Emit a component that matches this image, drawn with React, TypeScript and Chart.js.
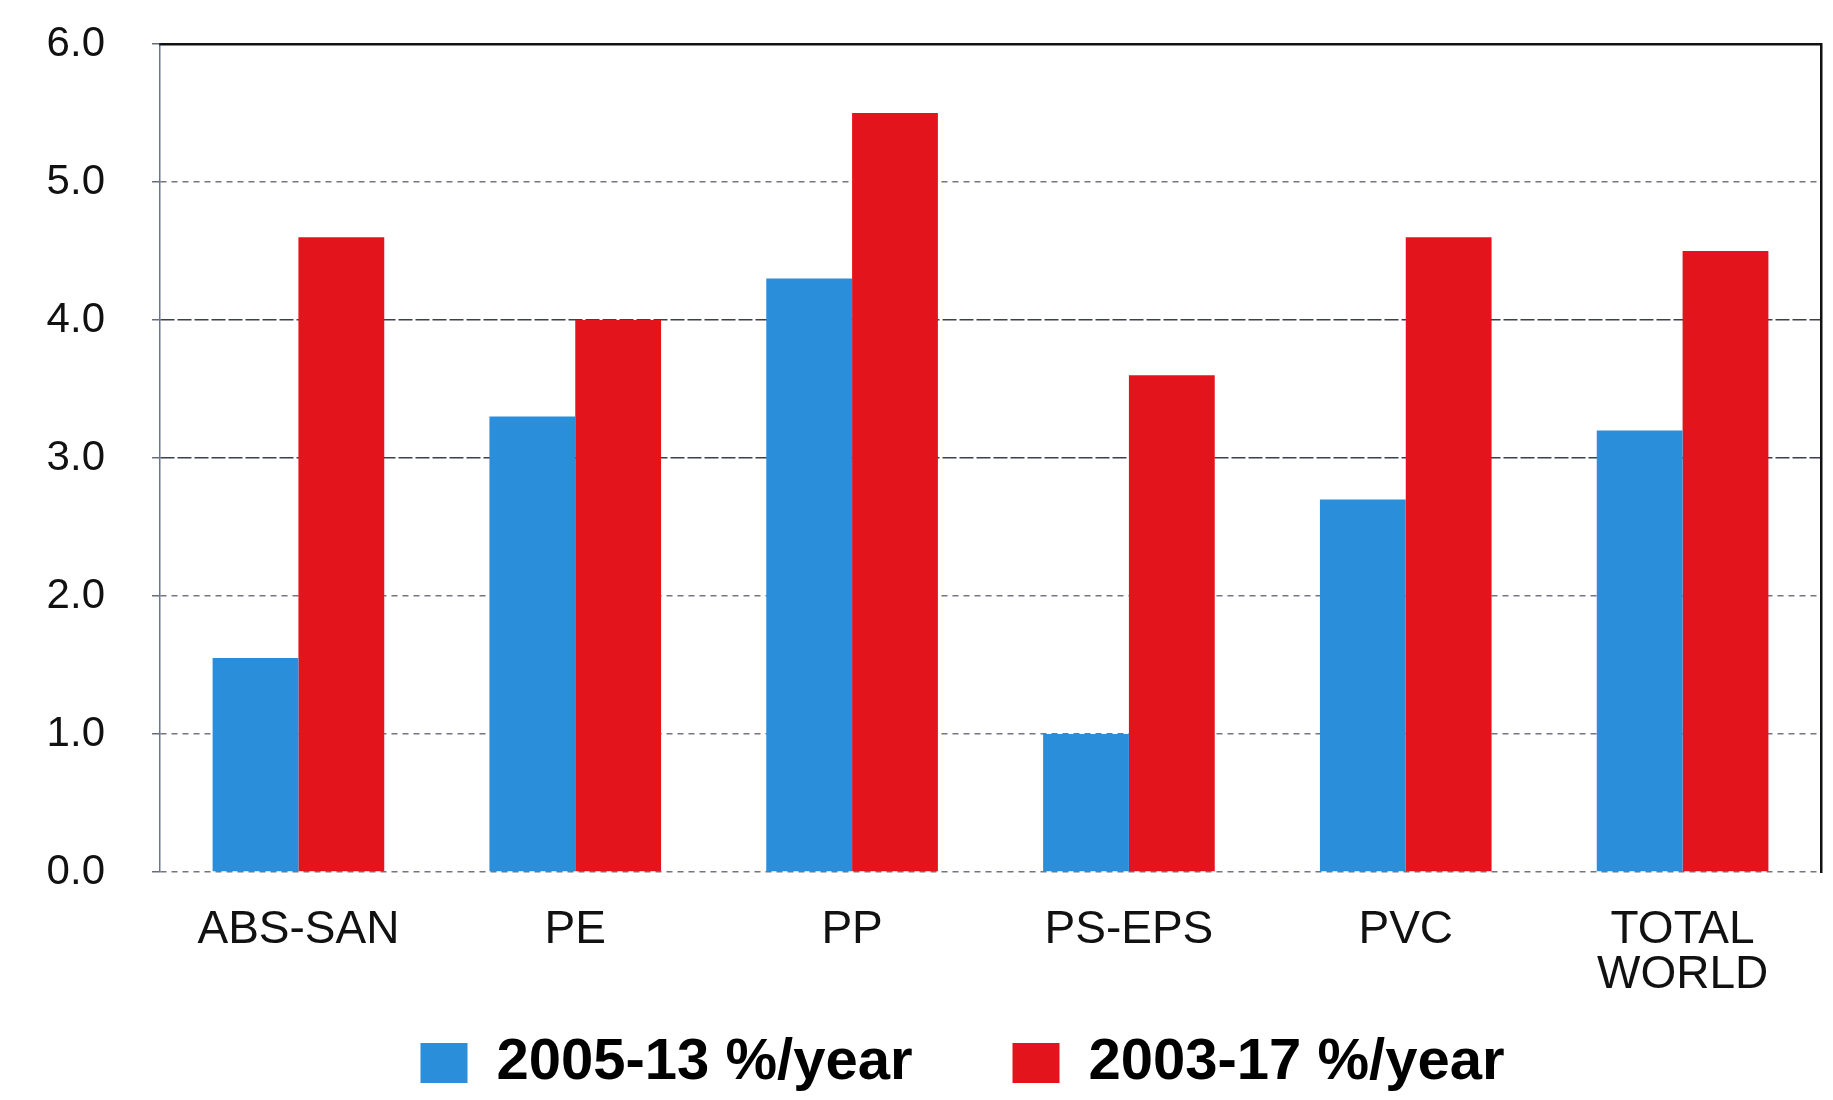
import React, { useEffect, useRef } from "react";
import { Chart, registerables } from "chart.js";

Chart.register(...registerables);

const categories: (string | string[])[] = ["ABS-SAN", "PE", "PP", "PS-EPS", "PVC", ["TOTAL", "WORLD"]];
const series2005_13 = [1.55, 3.3, 4.3, 1.0, 2.7, 3.2];
const series2003_17 = [4.6, 4.0, 5.5, 3.6, 4.6, 4.5];
const seriesLabels = ["2005-13 %/year", "2003-17 %/year"];
const yMin = 0;
const yMax = 6;
const yStep = 1;

const FONT = "'Liberation Sans', Arial, Helvetica, sans-serif";
const BLUE = "#2b8edb";
const RED = "#e3141c";

const LEGEND_PAD = 100;

const legendShift = {
  id: "legendShift",
  afterLayout(chart: any) {
    const l = chart.legend;
    if (l) {
      l.left -= 28;
      l.right -= 28;
      l.top -= LEGEND_PAD;
      l.height += LEGEND_PAD;
    }
  },
};

export default function App() {
  const ref = useRef<HTMLCanvasElement | null>(null);

  useEffect(() => {
    if (!ref.current) return;
    const chart = new Chart(ref.current, {
      type: "bar",
      data: {
        labels: categories,
        datasets: [
          {
            label: seriesLabels[0],
            data: series2005_13,
            backgroundColor: BLUE,
            borderWidth: 0,
            categoryPercentage: 0.62,
            barPercentage: 1.0,
          },
          {
            label: seriesLabels[1],
            data: series2003_17,
            backgroundColor: RED,
            borderWidth: 0,
            categoryPercentage: 0.62,
            barPercentage: 1.0,
          },
        ],
      },
      plugins: [legendShift],
      options: {
        animation: false,
        responsive: true,
        maintainAspectRatio: false,
        layout: { padding: { top: 44, right: 12, left: 0, bottom: 0 } },
        plugins: {
          tooltip: { enabled: false },
          title: { display: false },
          legend: {
            display: true,
            position: "bottom",
            fullSize: false,
            maxHeight: 66,
            labels: {
              boxWidth: 47,
              boxHeight: 40,
              padding: LEGEND_PAD,
              color: "#000",
              font: { family: FONT, size: 58, weight: "bold" },
            },
          },
        },
        scales: {
          x: {
            type: "category",
            position: "bottom",
            grid: { display: false, drawTicks: false },
            border: { display: false },
            ticks: {
              color: "#111",
              padding: 36,
              autoSkip: false,
              maxRotation: 0,
              font: { family: FONT, size: 46, lineHeight: 0.98 },
            },
            afterFit: (scale: any) => {
              scale.height = 162;
            },
          },
          xTop: {
            type: "category",
            position: "top",
            grid: { display: false, drawTicks: false },
            ticks: { display: false },
            border: { display: true, color: "#111", width: 2.5 },
          },
          y: {
            type: "linear",
            position: "left",
            min: yMin,
            max: yMax,
            ticks: {
              stepSize: yStep,
              color: "#111",
              padding: 47,
              font: { family: FONT, size: 42 },
              callback: (v: any) => Number(v).toFixed(1),
            },
            grid: {
              color: (ctx: any) =>
                ctx.tick && (ctx.tick.value === 3 || ctx.tick.value === 4)
                  ? "rgba(25,30,45,0.85)"
                  : "rgba(40,45,60,0.65)",
              lineWidth: 1.5,
              drawTicks: true,
              tickLength: 8,
              tickColor: "rgba(40,45,60,0.7)",
            },
            border: {
              display: true,
              color: "rgba(40,60,100,0.7)",
              width: 1.5,
              dash: (ctx: any) =>
                ctx.tick && (ctx.tick.value === 3 || ctx.tick.value === 4) ? [14, 3] : [6, 5],
            },
            afterFit: (scale: any) => {
              scale.width = 160;
              scale.paddingTop = 0;
              scale.paddingBottom = 0;
            },
          },
          yRight: {
            type: "linear",
            position: "right",
            grid: { display: false, drawTicks: false },
            ticks: { display: false },
            border: { display: true, color: "#111", width: 2.5 },
          },
        },
      },
    });
    return () => chart.destroy();
  }, []);

  return (
    <div style={{ position: "absolute", left: 0, top: 0, width: 1833, height: 1100, background: "#fff" }}>
      <canvas ref={ref} />
    </div>
  );
}
